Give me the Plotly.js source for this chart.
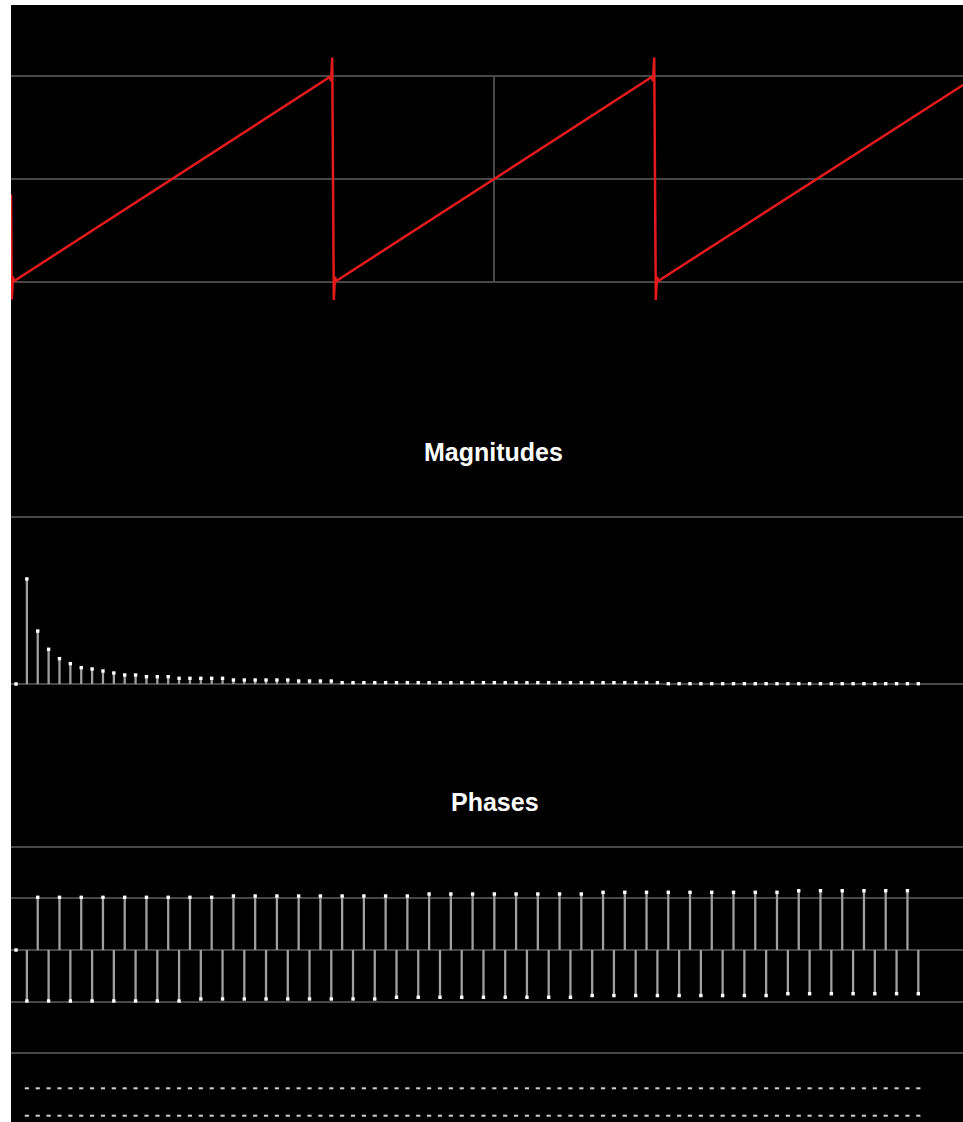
<!DOCTYPE html>
<html>
<head>
<meta charset="utf-8">
<script src="https://cdn.plot.ly/plotly-3.0.1.min.js"></script>
<style>
html,body{margin:0;padding:0;background:#fff;}
#chart{position:absolute;left:11px;top:5px;width:952px;height:1117px;}
</style>
</head>
<body>
<div id="chart"></div>
<script>
// ---- Data ----
// Sawtooth (time in half-periods, amplitude) incl. Gibbs overshoot at jumps
const sawX = [-3, -2.995, -2.988, -2.98, -1.02, -1.012, -1.005, -1.0, -0.995, -0.988, -0.98, 0.98, 0.988, 0.995, 1.0, 1.005, 1.012, 1.02, 2.913];
const sawY = [-0.15, -1.17, -0.95, -0.99, 0.99, 0.95, 1.18, 0, -1.175, -0.95, -0.99, 0.99, 0.95, 1.18, 0, -1.175, -0.95, -0.99, 0.913];

// Harmonic index
const harmonics = [0,1,2,3,4,5,6,7,8,9,10,11,12,13,14,15,16,17,18,19,20,21,22,23,24,25,26,27,28,29,30,31,32,33,34,35,36,37,38,39,40,41,42,43,44,45,46,47,48,49,50,51,52,53,54,55,56,57,58,59,60,61,62,63,64,65,66,67,68,69,70,71,72,73,74,75,76,77,78,79,80,81,82,83];

// Magnitudes
const magnitudes = [0,0.629,0.317,0.208,0.152,0.122,0.098,0.090,0.078,0.066,0.054,0.054,0.044,0.044,0.044,0.034,0.034,0.034,0.034,0.034,
 0.024,0.024,0.024,0.024,0.024,0.024,0.018,0.018,0.018,0.018,
 0.008,0.008,0.008,0.008,0.008,0.008,0.008,0.008,0.008,0.008,0.008,0.008,0.008,0.008,0.008,0.008,0.008,0.008,0.008,0.008,
 0.008,0.008,0.008,0.008,0.008,0.008,0.008,0.008,0.008,0.008,
 0.002,0.002,0.002,0.002,0.002,0.002,0.002,0.002,0.002,0.002,0.002,0.002,0.002,0.002,0.002,0.002,0.002,0.002,0.002,0.002,0.002,0.002,0.002,0.002];

// Phases (radians)
const phases = [0,
 -1.555,1.607,-1.555,1.607,-1.555,1.607,-1.555,1.607,-1.555,1.607,-1.555,1.607,-1.555,1.607,-1.555,1.607,
 -1.494,1.607,-1.494,1.647,-1.494,1.647,-1.494,1.647,-1.494,1.647,-1.494,1.647,-1.494,1.647,-1.494,1.647,-1.494,1.647,
 -1.443,1.647,-1.443,1.708,-1.443,1.708,-1.443,1.708,-1.443,1.708,-1.443,1.708,-1.443,1.708,-1.443,1.708,-1.443,1.708,
 -1.390,1.760,-1.390,1.760,-1.390,1.760,-1.390,1.760,-1.390,1.760,-1.390,1.760,-1.390,1.760,-1.390,1.760,-1.390,1.760,
 -1.333,1.808,-1.333,1.808,-1.333,1.808,-1.333,1.808,-1.333,1.808,-1.333,1.808,-1.333];

// Bottom row markers (harmonics 1..83)
const dashK = harmonics.slice(1);
const dashRowUpper = [1,1,1,1,1,1,1,1,1,1,1,1,1,1,1,1,1,1,1,1,1,1,1,1,1,1,1,1,1,1,1,1,1,1,1,1,1,1,1,1,1,1,1,1,1,1,1,1,1,1,1,1,1,1,1,1,1,1,1,1,1,1,1,1,1,1,1,1,1,1,1,1,1,1,1,1,1,1,1,1,1,1,1];
const dashRowLower = [0,0,0,0,0,0,0,0,0,0,0,0,0,0,0,0,0,0,0,0,0,0,0,0,0,0,0,0,0,0,0,0,0,0,0,0,0,0,0,0,0,0,0,0,0,0,0,0,0,0,0,0,0,0,0,0,0,0,0,0,0,0,0,0,0,0,0,0,0,0,0,0,0,0,0,0,0,0,0,0,0,0,0];

const titles = ["Magnitudes", "Phases"];
const PI = Math.PI;

// ---- Layout helpers (pixel geometry of the reference) ----
const H = 1117, TOP = 5;
function fy(p){ return 1 - (p - TOP) / H; }
function rangeFrom(pTop, pBot, pZero, pxPerUnit){
  return [(pZero - pBot) / pxPerUnit, (pZero - pTop) / pxPerUnit];
}
const GRID = '#474747';
const STEM = '#a0a0a0';

const baseX = {showgrid:false, zeroline:false, showticklabels:false, ticks:'', showline:false, fixedrange:true};
const baseY = {zeroline:false, showticklabels:false, ticks:'', showline:false, gridcolor:GRID, gridwidth:2, fixedrange:true};

const kRange = [-0.46, 87.11];

const traces = [
  {x: sawX, y: sawY, type:'scatter', mode:'lines', line:{color:'#e41a1c', width:2.5}, xaxis:'x', yaxis:'y', hoverinfo:'skip'},
  {x: harmonics, y: magnitudes, type:'bar', width:0.21, marker:{color:STEM, line:{width:0}}, xaxis:'x2', yaxis:'y2', hoverinfo:'skip'},
  {x: harmonics, y: magnitudes, type:'scatter', mode:'markers', marker:{symbol:'square', size:3.4, color:'#fff'}, xaxis:'x2', yaxis:'y2', hoverinfo:'skip'},
  {x: harmonics, y: phases, type:'bar', width:0.21, marker:{color:STEM, line:{width:0}}, xaxis:'x3', yaxis:'y3', hoverinfo:'skip'},
  {x: harmonics, y: phases, type:'scatter', mode:'markers', marker:{symbol:'square', size:3.4, color:'#fff'}, xaxis:'x3', yaxis:'y3', hoverinfo:'skip'},
  {x: dashK, y: dashRowUpper, type:'scatter', mode:'markers', marker:{symbol:'line-ew', size:3, line:{width:2, color:'#d0d0d0'}}, xaxis:'x4', yaxis:'y4', hoverinfo:'skip'},
  {x: dashK, y: dashRowLower, type:'scatter', mode:'markers', marker:{symbol:'line-ew', size:3, line:{width:2, color:'#d0d0d0'}}, xaxis:'x4', yaxis:'y4', hoverinfo:'skip'}
];

const layout = {
  width: 952, height: 1117,
  margin:{l:0, r:0, t:0, b:0, pad:0},
  paper_bgcolor:'#000', plot_bgcolor:'#000',
  showlegend:false, barmode:'overlay',
  xaxis: Object.assign({}, baseX, {domain:[0,1], range:[-3, 2.913], anchor:'y'}),
  yaxis: Object.assign({}, baseY, {domain:[fy(340), fy(5)], range: rangeFrom(5, 340, 179, 103), tickvals:[-1,0,1], anchor:'x'}),
  xaxis2: Object.assign({}, baseX, {domain:[0,1], range:kRange, anchor:'y2'}),
  yaxis2: Object.assign({}, baseY, {domain:[fy(720), fy(490)], range: rangeFrom(490, 720, 684, 167), tickvals:[0,1], anchor:'x2'}),
  xaxis3: Object.assign({}, baseX, {domain:[0,1], range:kRange, anchor:'y3'}),
  yaxis3: Object.assign({}, baseY, {domain:[fy(1060), fy(830)], range: rangeFrom(830, 1060, 950, 32.79), tickvals:[-PI,-PI/2,0,PI/2,PI], anchor:'x3'}),
  xaxis4: Object.assign({}, baseX, {domain:[0,1], range:kRange, anchor:'y4'}),
  yaxis4: Object.assign({}, baseY, {domain:[0, fy(1068)], range: rangeFrom(1068, 1122, 1115.7, 27.4), showgrid:false, anchor:'x4'}),
  shapes:[
    {type:'line', xref:'x', yref:'y', x0:0, x1:0, y0:-1, y1:1, line:{color:GRID, width:2}, layer:'below'}
  ],
  annotations:[
    {text:titles[0], xref:'paper', yref:'paper', x:(493-11)/952, y:fy(452), xanchor:'center', yanchor:'middle', showarrow:false,
     font:{family:'Liberation Sans, Arial, sans-serif', size:25, color:'#fff', weight:'bold'}},
    {text:titles[1], xref:'paper', yref:'paper', x:(495-11)/952, y:fy(802), xanchor:'center', yanchor:'middle', showarrow:false,
     font:{family:'Liberation Sans, Arial, sans-serif', size:25, color:'#fff', weight:'bold'}}
  ]
};

Plotly.newPlot('chart', traces, layout, {staticPlot:true, displayModeBar:false});
</script>
</body>
</html>
